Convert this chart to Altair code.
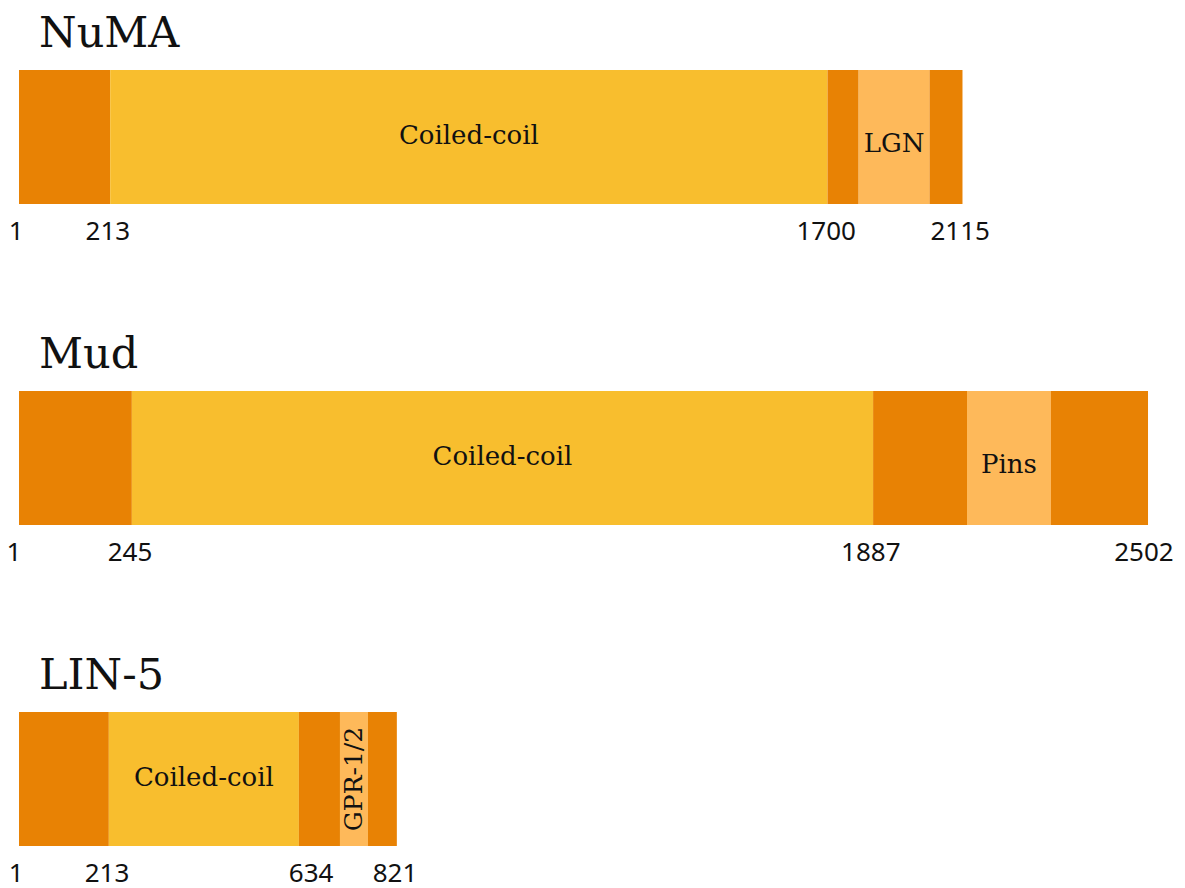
import altair as alt
import pandas as pd

# ---- data ----
proteins = ["NuMA", "Mud", "LIN-5"]
# segment boundaries (drawn positions, residue-like units on a shared scale)
bounds = {
    "NuMA": [1, 203, 1792, 1861, 2018, 2091],
    "Mud": [1, 251, 1893, 2101, 2287, 2502],
    "LIN-5": [1, 200, 621, 712, 774, 838],
}
segment_kinds = ["other", "coil", "other", "binding", "other"]
domain_names = {
    "NuMA": ["", "Coiled-coil", "", "LGN", ""],
    "Mud": ["", "Coiled-coil", "", "Pins", ""],
    "LIN-5": ["", "Coiled-coil", "", "GPR-1/2", ""],
}
tick_labels = {
    "NuMA": ["1", "213", "1700", "2115"],
    "Mud": ["1", "245", "1887", "2502"],
    "LIN-5": ["1", "213", "634", "821"],
}
tick_positions = {
    "NuMA": [-5, 198, 1789, 2086],
    "Mud": [-10, 247, 1888, 2493],
    "LIN-5": [-5, 196, 648, 834],
}

kind_colors = {"other": "#E88204", "coil": "#F8BE2E", "binding": "#FEB95A"}

HALF = 67 / 321  # bar half height in row units

seg_rows, dom_rows, tick_rows, title_rows = [], [], [], []
for r, p in enumerate(proteins):
    b = bounds[p]
    for i, k in enumerate(segment_kinds):
        seg_rows.append({"protein": p, "row": r, "start": b[i], "end": b[i + 1],
                         "kind": k, "y0": r - HALF, "y1": r + HALF})
        name = domain_names[p][i]
        if name:
            dom_rows.append({"protein": p, "row": r, "mid": (b[i] + b[i + 1]) / 2,
                             "name": name, "kind": k})
    for lab, pos in zip(tick_labels[p], tick_positions[p]):
        tick_rows.append({"protein": p, "row": r, "pos": pos, "label": lab})
    title_rows.append({"protein": p, "row": r, "pos": b[0]})

segs = pd.DataFrame(seg_rows)
doms = pd.DataFrame(dom_rows)
ticks = pd.DataFrame(tick_rows)
titles = pd.DataFrame(title_rows)

xscale = alt.Scale(domain=[-23.37, 2566.2], nice=False, zero=False)
yscale = alt.Scale(domain=[-0.40187, 2.33956], nice=False, zero=False, reverse=True)

bars = alt.Chart(segs).mark_rect().encode(
    x=alt.X("start:Q", scale=xscale, axis=None),
    x2="end:Q",
    y=alt.Y("y0:Q", scale=yscale, axis=None),
    y2="y1:Q",
    color=alt.Color("kind:N",
                    scale=alt.Scale(domain=list(kind_colors.keys()),
                                    range=list(kind_colors.values())),
                    legend=None),
)

serif = "DejaVu Serif"

coil_text = alt.Chart(doms[doms.kind == "coil"]).mark_text(
    font=serif, fontSize=26, color="#111111", baseline="alphabetic", dy=7
).encode(x=alt.X("mid:Q", scale=xscale), y=alt.Y("row:Q", scale=yscale), text="name:N")

bind_h = doms[(doms.kind == "binding") & (doms.name != "GPR-1/2")]
bind_text = alt.Chart(bind_h).mark_text(
    font=serif, fontSize=26, color="#111111", baseline="alphabetic", dy=15
).encode(x=alt.X("mid:Q", scale=xscale), y=alt.Y("row:Q", scale=yscale), text="name:N")

bind_v = doms[doms.name == "GPR-1/2"]
vert_text = alt.Chart(bind_v).mark_text(
    font=serif, fontSize=25, color="#111111", angle=270, baseline="middle", align="center"
).encode(x=alt.X("mid:Q", scale=xscale), y=alt.Y("row:Q", scale=yscale), text="name:N")

tick_text = alt.Chart(ticks).mark_text(
    font="Noto Sans", fontSize=26, color="#111111", baseline="middle", dy=95
).encode(x=alt.X("pos:Q", scale=xscale), y=alt.Y("row:Q", scale=yscale), text="label:N")

title_text = alt.Chart(titles).mark_text(
    font=serif, fontSize=43, color="#111111", align="left", baseline="alphabetic",
    dx=20, dy=-90
).encode(x=alt.X("pos:Q", scale=xscale), y=alt.Y("row:Q", scale=yscale), text="protein:N")

chart = alt.layer(bars, coil_text, bind_text, vert_text, tick_text, title_text).properties(
    width=1169, height=880,
    padding=0,
    autosize=alt.AutoSizeParams(type="none"),
).configure(background="white").configure_view(stroke=None, strokeWidth=0)

chart.save("out.html", embed_options={"renderer": "svg", "actions": False})
